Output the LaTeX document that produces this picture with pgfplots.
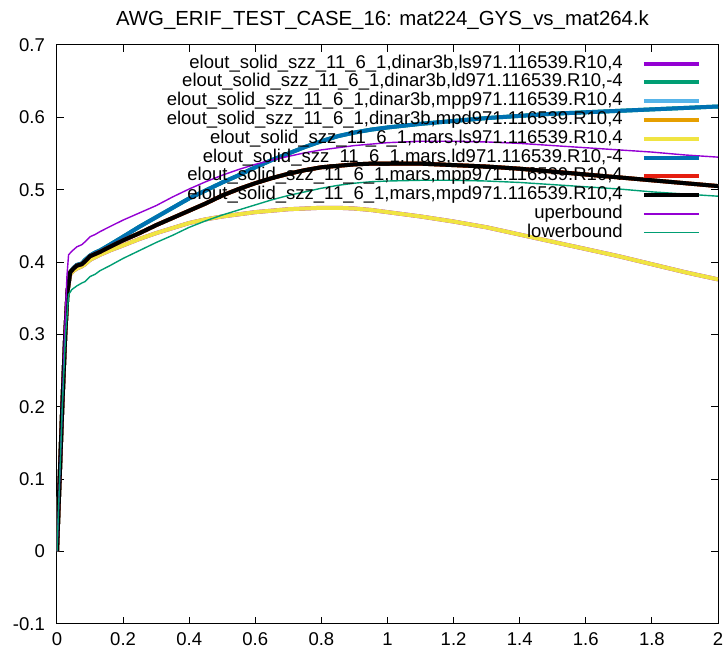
\documentclass[border=0pt]{standalone}
\usepackage{fontspec}
\setmainfont{Liberation Sans}
\usepackage{pgfplots}
\usepackage{pgfplotstable}
\pgfplotsset{compat=1.18}

\definecolor{gpPurple}{HTML}{9400D3}
\definecolor{gpGreen}{HTML}{009E73}
\definecolor{gpSky}{HTML}{56B4E9}
\definecolor{gpOrange}{HTML}{E69F00}
\definecolor{gpYellow}{HTML}{F0E442}
\definecolor{gpBlue}{HTML}{0072B2}
\definecolor{gpRed}{HTML}{E51E10}

\newcommand\gfont{\fontsize{18.5pt}{18.8pt}\selectfont}

% mars,ls (yellow)
\pgfplotstableread{
x y
0 0
0.008 0.1
0.016 0.2
0.025 0.3
0.032 0.36
0.04 0.383
0.05 0.388
0.06 0.391
0.075 0.394
0.085 0.397
0.1 0.403
0.13 0.41
0.16 0.416
0.2 0.423
0.25 0.432
0.3 0.44
0.35 0.447
0.4 0.454
0.45 0.459
0.5 0.463
0.55 0.466
0.6 0.469
0.65 0.471
0.7 0.473
0.75 0.474
0.8 0.475
0.85 0.475
0.9 0.474
0.95 0.472
1.0 0.469
1.1 0.463
1.2 0.456
1.3 0.448
1.4 0.438
1.5 0.428
1.6 0.418
1.7 0.408
1.8 0.397
1.9 0.386
2.0 0.376
}\lsdata

% mars,ld (blue)
\pgfplotstableread{
x y
0 0
0.008 0.1
0.016 0.2
0.025 0.3
0.032 0.36
0.04 0.386
0.05 0.392
0.06 0.396
0.075 0.398
0.085 0.403
0.1 0.409
0.115 0.413
0.13 0.416
0.16 0.424
0.2 0.435
0.25 0.449
0.3 0.462
0.35 0.475
0.4 0.488
0.45 0.499
0.5 0.51
0.55 0.52
0.6 0.531
0.65 0.541
0.7 0.55
0.75 0.559
0.8 0.567
0.85 0.574
0.9 0.579
0.95 0.583
1.0 0.586
1.1 0.591
1.2 0.595
1.3 0.599
1.4 0.602
1.5 0.605
1.6 0.607
1.7 0.609
1.8 0.611
1.9 0.613
2.0 0.615
}\lddata

% mars,mpp / mpd (red, black)
\pgfplotstableread{
x y
0 0
0.008 0.1
0.016 0.2
0.025 0.3
0.032 0.36
0.04 0.386
0.05 0.391
0.06 0.395
0.075 0.397
0.085 0.401
0.1 0.408
0.115 0.411
0.13 0.414
0.16 0.421
0.2 0.43
0.25 0.44
0.3 0.451
0.35 0.461
0.4 0.471
0.45 0.481
0.5 0.492
0.55 0.501
0.6 0.509
0.65 0.516
0.7 0.522
0.75 0.527
0.8 0.531
0.85 0.533
0.9 0.535
0.95 0.536
1.0 0.536
1.1 0.536
1.2 0.534
1.3 0.532
1.4 0.529
1.5 0.525
1.6 0.521
1.7 0.517
1.8 0.513
1.9 0.509
2.0 0.505
}\mpdata

% uperbound
\pgfplotstableread{
x y
0 0
0.008 0.1
0.016 0.2
0.023 0.3
0.03 0.38
0.035 0.41
0.045 0.415
0.06 0.421
0.075 0.424
0.085 0.428
0.1 0.435
0.115 0.438
0.13 0.442
0.16 0.449
0.2 0.458
0.25 0.468
0.3 0.478
0.35 0.49
0.4 0.501
0.45 0.511
0.5 0.52
0.55 0.528
0.6 0.535
0.65 0.541
0.7 0.546
0.75 0.551
0.8 0.555
0.85 0.558
0.9 0.561
0.95 0.563
1.0 0.565
1.1 0.567
1.2 0.567
1.3 0.566
1.4 0.564
1.5 0.561
1.6 0.558
1.7 0.555
1.8 0.552
1.9 0.548
2.0 0.545
}\updata

% lowerbound
\pgfplotstableread{
x y
0 0
0.008 0.1
0.016 0.2
0.026 0.3
0.035 0.355
0.045 0.362
0.06 0.367
0.075 0.371
0.085 0.373
0.1 0.38
0.115 0.383
0.13 0.388
0.16 0.395
0.2 0.405
0.25 0.416
0.3 0.427
0.35 0.437
0.4 0.448
0.45 0.457
0.5 0.465
0.55 0.472
0.6 0.479
0.65 0.486
0.7 0.492
0.75 0.497
0.8 0.502
0.85 0.506
0.9 0.509
0.95 0.511
1.0 0.512
1.1 0.513
1.2 0.513
1.3 0.512
1.4 0.51
1.5 0.507
1.6 0.504
1.7 0.501
1.8 0.497
1.9 0.494
2.0 0.491
}\lowdata

\begin{document}
\begin{tikzpicture}
\useasboundingbox (0,0) rectangle (724pt,653pt);
\begin{axis}[
    at={(57pt,29.2pt)}, anchor=south west,
    scale only axis,
    width=661pt, height=578.8pt,
    xmin=0, xmax=2, ymin=-0.1, ymax=0.7,
    xtick={0,0.2,0.4,0.6,0.8,1,1.2,1.4,1.6,1.8,2},
    ytick={-0.1,0,0.1,0.2,0.3,0.4,0.5,0.6,0.7},
    tick align=inside,
    major tick length=7pt,
    axis line style={line width=1pt},
    every tick/.style={black, line width=1pt},
    /pgf/number format/assume math mode=true,
    ticklabel style={font=\gfont, inner sep=0pt},
    xticklabel style={yshift=-8.5pt},
    yticklabel style={xshift=-12pt},
    title={AWG\_ERIF\_TEST\_CASE\_16: mat224\_GYS\_vs\_mat264.k},
    title style={font=\fontsize{20.4pt}{21pt}\selectfont, at={(0.5,1)}, anchor=base,
        xshift=-5pt, yshift=13.7pt, inner sep=0pt},
    legend cell align=right,
    legend plot pos=right,
    legend image code/.code={\draw[#1] (0pt,0pt) -- (55pt,0pt);},
    legend style={at={(axis description cs:1,1)}, anchor=north east,
        xshift=-17pt, yshift=-9pt, draw=none, fill=none,
        font=\gfont, column sep=19pt, row sep=0pt, inner sep=0pt,
        nodes={inner sep=0pt, text height=14pt, text depth=4.8pt, anchor=east}},
]
\addplot[gpPurple, line width=4pt] table {\lsdata};
\addlegendentry{elout\_solid\_szz\_11\_6\_1,dinar3b,ls971.116539.R10,4}
\addplot[gpGreen, line width=4pt] table {\lddata};
\addlegendentry{elout\_solid\_szz\_11\_6\_1,dinar3b,ld971.116539.R10,-4}
\addplot[gpSky, line width=4pt] table {\mpdata};
\addlegendentry{elout\_solid\_szz\_11\_6\_1,dinar3b,mpp971.116539.R10,4}
\addplot[gpOrange, line width=4pt] table {\mpdata};
\addlegendentry{elout\_solid\_szz\_11\_6\_1,dinar3b,mpd971.116539.R10,4}
\addplot[gpYellow, line width=4pt] table {\lsdata};
\addlegendentry{elout\_solid\_szz\_11\_6\_1,mars,ls971.116539.R10,4}
\addplot[gpBlue, line width=4pt] table {\lddata};
\addlegendentry{elout\_solid\_szz\_11\_6\_1,mars,ld971.116539.R10,-4}
\addplot[gpRed, line width=4pt] table {\mpdata};
\addlegendentry{elout\_solid\_szz\_11\_6\_1,mars,mpp971.116539.R10,4}
\addplot[black, line width=4pt] table {\mpdata};
\addlegendentry{elout\_solid\_szz\_11\_6\_1,mars,mpd971.116539.R10,4}
\addplot[gpPurple, line width=1.4pt] table {\updata};
\addlegendentry{uperbound}
\addplot[gpGreen, line width=1.4pt] table {\lowdata};
\addlegendentry{lowerbound}
\end{axis}
\end{tikzpicture}
\end{document}
